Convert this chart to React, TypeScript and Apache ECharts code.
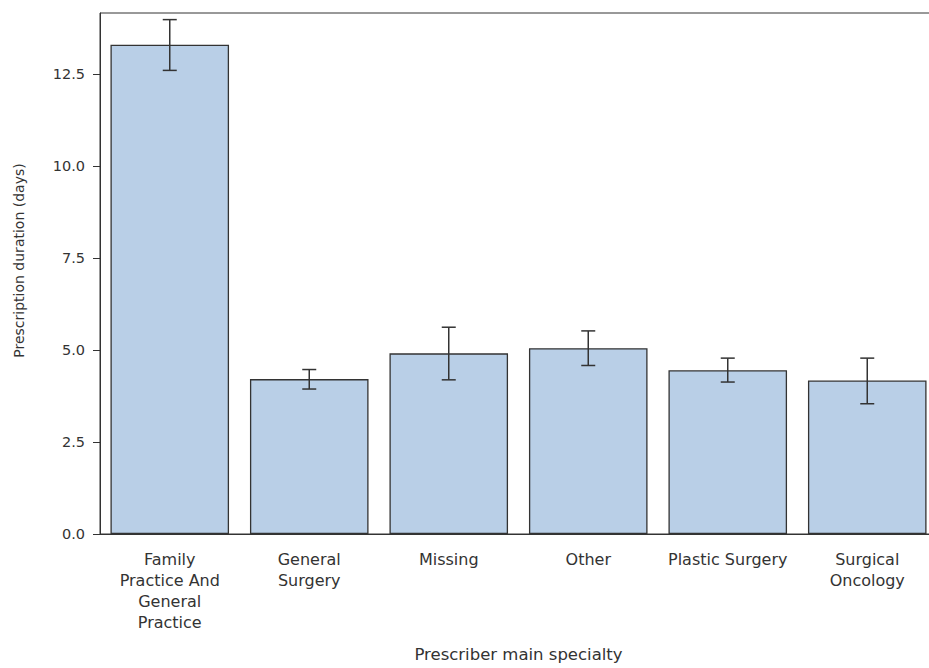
import React, { useEffect, useRef } from "react";
import * as echarts from "echarts";

const categories = [
  "Family Practice And General Practice",
  "General Surgery",
  "Missing",
  "Other",
  "Plastic Surgery",
  "Surgical Oncology",
];
const tickLabels = [
  "Family\nPractice And\nGeneral\nPractice",
  "General\nSurgery",
  "Missing",
  "Other",
  "Plastic Surgery",
  "Surgical\nOncology",
];
const meanDays = [13.3, 4.21, 4.91, 5.05, 4.45, 4.17];
const lowerCI = [12.6, 3.94, 4.19, 4.58, 4.13, 3.54];
const upperCI = [13.98, 4.47, 5.62, 5.52, 4.78, 4.78];

const FONT = "DejaVu Sans";
const TEXT = "#333333";

export default function App() {
  const ref = useRef<HTMLDivElement>(null);
  useEffect(() => {
    if (!ref.current) return;
    const chart = echarts.init(ref.current, null, { renderer: "svg" });
    chart.setOption({
      animation: false,
      backgroundColor: "#ffffff",
      grid: {
        left: 100,
        top: 13,
        right: 3,
        bottom: 131,
        show: true,
        borderColor: "#333333",
        borderWidth: 1,
        backgroundColor: "transparent",
      },
      xAxis: {
        type: "category",
        data: categories,
        name: "Prescriber main specialty",
        nameLocation: "middle",
        nameGap: 112,
        nameTextStyle: { fontFamily: FONT, fontSize: 16.5, color: TEXT },
        axisLine: { lineStyle: { color: "#333333", width: 1 } },
        axisTick: { alignWithLabel: true, length: 6, lineStyle: { color: "#333333" } },
        axisLabel: {
          interval: 0,
          margin: 15,
          fontFamily: FONT,
          fontSize: 16,
          lineHeight: 21,
          color: TEXT,
          align: "center",
          formatter: (_v: string, i: number) => tickLabels[i],
        },
        splitLine: { show: false },
      },
      yAxis: {
        type: "value",
        min: 0,
        max: 14.16,
        interval: 2.5,
        name: "Prescription duration (days)",
        nameLocation: "middle",
        nameGap: 74,
        nameTextStyle: { fontFamily: FONT, fontSize: 14, color: TEXT, padding: [0, 0, 0, 26] },
        axisLine: { show: true, lineStyle: { color: "#333333", width: 1 } },
        axisTick: { show: true, length: 7, lineStyle: { color: "#333333" } },
        axisLabel: {
          fontFamily: FONT,
          fontSize: 14.5,
          color: TEXT,
          margin: 15,
          showMaxLabel: false,
          formatter: (v: number) =>
            Math.abs(v / 2.5 - Math.round(v / 2.5)) < 1e-6 ? v.toFixed(1) : "",
        },
        splitLine: { show: false },
      },
      series: [
        {
          type: "bar",
          data: meanDays,
          barCategoryGap: "15%",
          itemStyle: { color: "#b9cfe7", borderColor: "#333333", borderWidth: 1.3 },
          z: 2,
        },
        {
          type: "custom",
          z: 5,
          data: categories.map((_c, i) => [i, lowerCI[i], upperCI[i]]),
          encode: { x: 0, y: [1, 2] },
          renderItem: (_params: any, api: any) => {
            const i = api.value(0);
            const lo = api.coord([i, api.value(1)]);
            const hi = api.coord([i, api.value(2)]);
            const hw = 7;
            const st = { stroke: "#333333", lineWidth: 1.5 };
            return {
              type: "group",
              children: [
                { type: "line", shape: { x1: hi[0], y1: hi[1], x2: lo[0], y2: lo[1] }, style: st },
                { type: "line", shape: { x1: hi[0] - hw, y1: hi[1], x2: hi[0] + hw, y2: hi[1] }, style: st },
                { type: "line", shape: { x1: lo[0] - hw, y1: lo[1], x2: lo[0] + hw, y2: lo[1] }, style: st },
              ],
            };
          },
        },
      ],
    });
    return () => chart.dispose();
  }, []);
  return (
    <div
      style={{
        position: "fixed",
        left: 0,
        top: 0,
        width: 929,
        height: 668,
        overflow: "hidden",
        background: "#ffffff",
      }}
    >
      <div ref={ref} style={{ width: 940, height: 668 }} />
    </div>
  );
}
